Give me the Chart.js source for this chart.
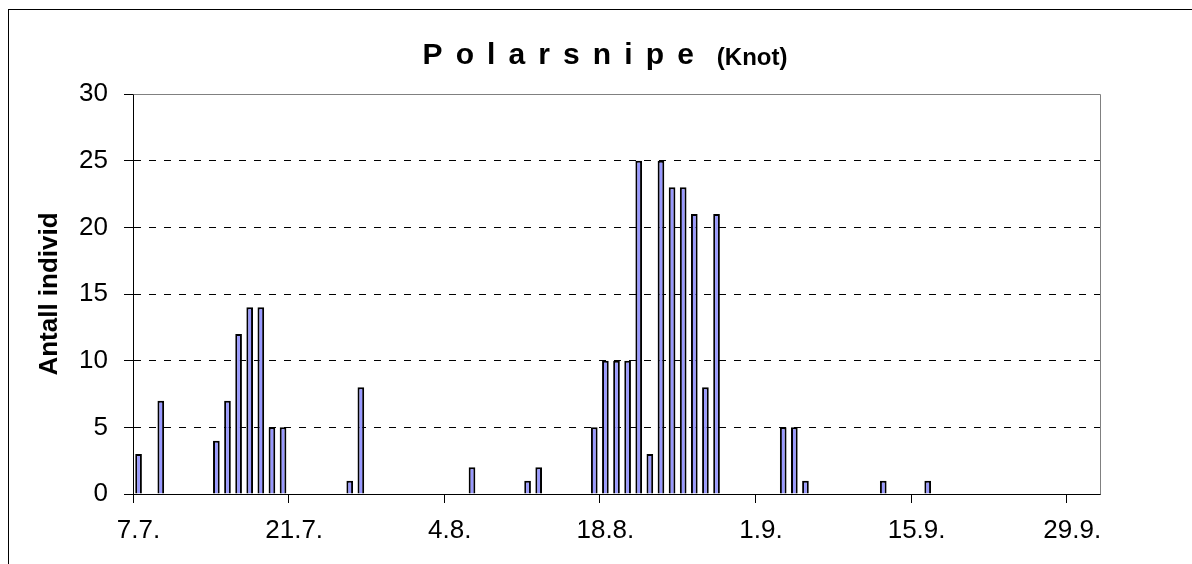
<!DOCTYPE html>
<html>
<head>
<meta charset="utf-8">
<script src="https://cdn.jsdelivr.net/npm/chart.js@4/dist/chart.umd.min.js"></script>
<style>
  html, body { margin: 0; padding: 0; background: #fff; overflow: hidden; }
  #frame { position: absolute; left: 8px; top: 9px; width: 1300px; height: 700px; border: 1px solid #000; }
  #wrap { position: absolute; left: 0; top: 0; width: 1192px; height: 564px; }
</style>
</head>
<body>
<div id="frame"></div>
<div id="wrap"><canvas id="knotChart"></canvas></div>
<script>
// every day on the axis, 7 July to 1 October
var days = [
    '7.7.', '8.7.', '9.7.', '10.7.', '11.7.', '12.7.', '13.7.', '14.7.', '15.7.', '16.7.',
    '17.7.', '18.7.', '19.7.', '20.7.', '21.7.', '22.7.', '23.7.', '24.7.', '25.7.', '26.7.',
    '27.7.', '28.7.', '29.7.', '30.7.', '31.7.',
    '1.8.', '2.8.', '3.8.', '4.8.', '5.8.', '6.8.', '7.8.', '8.8.', '9.8.', '10.8.',
    '11.8.', '12.8.', '13.8.', '14.8.', '15.8.', '16.8.', '17.8.', '18.8.', '19.8.', '20.8.',
    '21.8.', '22.8.', '23.8.', '24.8.', '25.8.', '26.8.', '27.8.', '28.8.', '29.8.', '30.8.',
    '31.8.',
    '1.9.', '2.9.', '3.9.', '4.9.', '5.9.', '6.9.', '7.9.', '8.9.', '9.9.', '10.9.',
    '11.9.', '12.9.', '13.9.', '14.9.', '15.9.', '16.9.', '17.9.', '18.9.', '19.9.', '20.9.',
    '21.9.', '22.9.', '23.9.', '24.9.', '25.9.', '26.9.', '27.9.', '28.9.', '29.9.', '30.9.',
    '1.10.'
];

// days with birds seen, and how many
var obsDays = [
    '7.7.', '9.7.', '14.7.', '15.7.', '16.7.', '17.7.', '18.7.', '19.7.', '20.7.', '26.7.', '27.7.',
    '6.8.', '11.8.', '12.8.', '17.8.', '18.8.', '19.8.', '20.8.', '21.8.', '22.8.', '23.8.',
    '24.8.', '25.8.', '26.8.', '27.8.', '28.8.',
    '3.9.', '4.9.', '5.9.', '12.9.', '16.9.'
];
var obsCounts = [
    3, 7, 4, 7, 12, 14, 14, 5, 5, 1, 8,
    2, 1, 2, 5, 10, 10, 10, 25, 3, 25,
    23, 23, 21, 8, 21,
    5, 5, 1, 1, 1
];

var yTicks = [0, 5, 10, 15, 20, 25, 30];
var labelEvery = 14;

var titleMain = 'Polarsnipe';
var titleSub = '(Knot)';

var fontFamily = '"Liberation Sans", Arial, sans-serif';

var points = obsDays.map(function (d, i) {
    return { x: d, y: obsCounts[i] };
});

// title drawn by hand: spaced-out letters plus a smaller "(Knot)"
var titlePlugin = {
    id: 'twoPartTitle',
    afterDraw: function (chart) {
        var ctx = chart.ctx;
        var spacing = 13.1;
        var gap = 23;
        ctx.save();
        ctx.fillStyle = '#000';
        ctx.textBaseline = 'alphabetic';
        ctx.font = 'bold 30px ' + fontFamily;
        var chars = titleMain.split('');
        var w1 = 0;
        chars.forEach(function (ch, i) {
            w1 += ctx.measureText(ch).width + (i < chars.length - 1 ? spacing : 0);
        });
        ctx.font = 'bold 24px ' + fontFamily;
        var w2 = ctx.measureText(titleSub).width;
        var x = 605 - (w1 + gap + w2) / 2;
        ctx.font = 'bold 30px ' + fontFamily;
        chars.forEach(function (ch) {
            ctx.fillText(ch, x, 64);
            x += ctx.measureText(ch).width + spacing;
        });
        x = x - spacing + gap;
        ctx.font = 'bold 24px ' + fontFamily;
        ctx.fillText(titleSub, x, 65);
        ctx.restore();
    }
};

// grey top and right edge of the plot area
var plotEdge = {
    id: 'plotEdge',
    beforeDatasetsDraw: function (chart) {
        var a = chart.chartArea;
        var ctx = chart.ctx;
        ctx.save();
        ctx.strokeStyle = '#808080';
        ctx.lineWidth = 1;
        ctx.beginPath();
        ctx.moveTo(Math.round(a.left) + 0.5, Math.round(a.top) + 0.5);
        ctx.lineTo(Math.round(a.right) + 0.5, Math.round(a.top) + 0.5);
        ctx.lineTo(Math.round(a.right) + 0.5, Math.round(a.bottom) + 0.5);
        ctx.stroke();
        ctx.restore();
    }
};

var ctx = document.getElementById('knotChart').getContext('2d');
new Chart(ctx, {
    type: 'bar',
    data: {
        labels: days,
        datasets: [{
            label: 'Knot',
            data: points,
            backgroundColor: '#9999FF',
            borderColor: '#000000',
            borderWidth: 2,
            barPercentage: 0.6,
            categoryPercentage: 1
        }]
    },
    options: {
        responsive: true,
        maintainAspectRatio: false,
        animation: false,
        layout: { padding: { left: 0, top: 94, right: 92, bottom: 0 } },
        plugins: {
            legend: { display: false },
            title: { display: false },
            tooltip: { enabled: false }
        },
        scales: {
            x: {
                offset: true,
                afterFit: function (scale) { scale.height = 70; },
                grid: {
                    offset: true,
                    drawOnChartArea: false,
                    tickLength: 9,
                    tickColor: function (c) {
                        return c.index % labelEvery === 0 ? '#000' : 'rgba(0,0,0,0)';
                    }
                },
                border: { color: '#000', width: 1 },
                ticks: {
                    autoSkip: false,
                    maxRotation: 0,
                    padding: 12,
                    color: '#000',
                    font: { family: fontFamily, size: 26 },
                    callback: function (value, index) {
                        return index % labelEvery === 0 ? days[index] : '';
                    }
                }
            },
            y: {
                min: 0,
                max: 30,
                afterFit: function (scale) { scale.width = 133; },
                afterBuildTicks: function (scale) {
                    scale.ticks = yTicks.map(function (v) { return { value: v }; });
                },
                grid: {
                    color: function (c) {
                        return c.tick && c.tick.value === 30 ? 'rgba(0,0,0,0)' : '#000';
                    },
                    tickColor: '#000',
                    tickLength: 9,
                    lineWidth: 1
                },
                border: { color: '#000', width: 1, dash: [7, 8] },
                ticks: {
                    padding: 16,
                    color: '#000',
                    font: { family: fontFamily, size: 26 }
                },
                title: {
                    display: true,
                    text: 'Antall individ',
                    color: '#000',
                    padding: { top: 34, bottom: 0 },
                    font: { family: fontFamily, size: 26, weight: 'bold' }
                }
            }
        }
    },
    plugins: [titlePlugin, plotEdge]
});
</script>
</body>
</html>
